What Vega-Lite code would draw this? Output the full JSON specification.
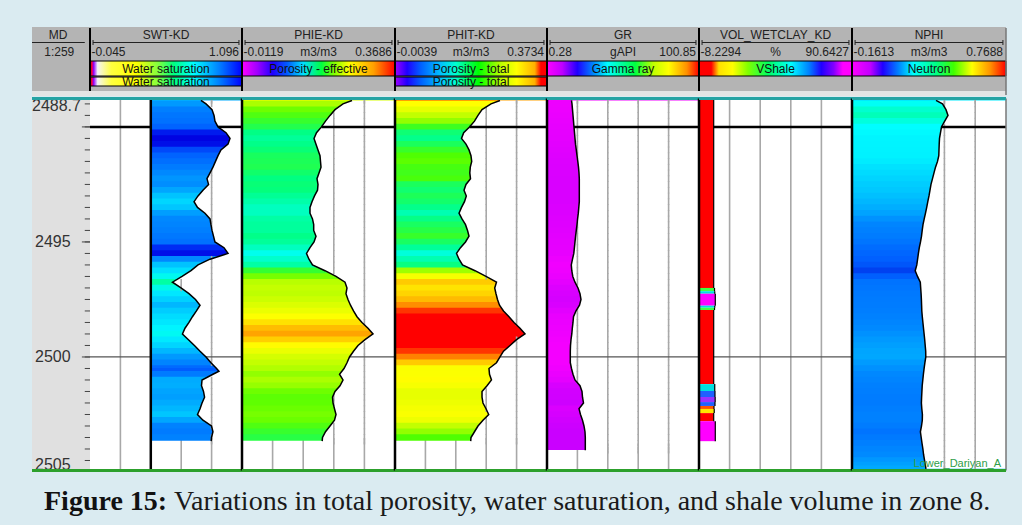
{
"$schema": "https://vega.github.io/schema/vega-lite/v6.json",
"background": "#daebf1",
"padding": {"left": 30, "top": 27, "right": 18, "bottom": 9},
"spacing": 0,
"config": {"view": {"stroke": null}, "axis": {"disable": true}, "legend": {"disable": true}, "font": "Liberation Sans"},
"resolve": {"scale": {"color": "independent"}},
"datasets": {
"log": [
{"d":2488.85,"swt":0.788,"phie":0.2617,"phit":0.2567,"gr":16.49,"nphi":0.346},
{"d":2489,"swt":0.826,"phie":0.2393,"phit":0.2344,"gr":16.82,"nphi":0.3853},
{"d":2489.25,"swt":0.871,"phie":0.2194,"phit":0.2121,"gr":17.15,"nphi":0.4064},
{"d":2489.5,"swt":0.886,"phie":0.207,"phit":0.2021,"gr":17.48,"nphi":0.4185},
{"d":2489.75,"swt":0.893,"phie":0.1958,"phit":0.1934,"gr":17.81,"nphi":0.3986},
{"d":2490,"swt":0.916,"phie":0.1858,"phit":0.181,"gr":18.14,"nphi":0.3792},
{"d":2490.25,"swt":0.976,"phie":0.1734,"phit":0.1666,"gr":18.47,"nphi":0.3732},
{"d":2490.5,"swt":1.006,"phie":0.1672,"phit":0.1612,"gr":18.8,"nphi":0.3672},
{"d":2490.75,"swt":0.991,"phie":0.1721,"phit":0.1723,"gr":19.14,"nphi":0.3654},
{"d":2491,"swt":0.938,"phie":0.1771,"phit":0.1798,"gr":19.66,"nphi":0.3641},
{"d":2491.25,"swt":0.916,"phie":0.1821,"phit":0.1847,"gr":20.13,"nphi":0.3629},
{"d":2491.5,"swt":0.897,"phie":0.1833,"phit":0.1865,"gr":20.66,"nphi":0.3551},
{"d":2491.75,"swt":0.878,"phie":0.1846,"phit":0.183,"gr":21.12,"nphi":0.343},
{"d":2492,"swt":0.856,"phie":0.1796,"phit":0.1818,"gr":21.45,"nphi":0.3339},
{"d":2492.25,"swt":0.833,"phie":0.1746,"phit":0.1835,"gr":21.65,"nphi":0.3249},
{"d":2492.5,"swt":0.845,"phie":0.1771,"phit":0.1723,"gr":21.65,"nphi":0.3158},
{"d":2492.75,"swt":0.803,"phie":0.1759,"phit":0.1674,"gr":21.65,"nphi":0.3098},
{"d":2493,"swt":0.766,"phie":0.1684,"phit":0.1731,"gr":21.65,"nphi":0.3037},
{"d":2493.25,"swt":0.736,"phie":0.1622,"phit":0.1686,"gr":21.65,"nphi":0.2965},
{"d":2493.5,"swt":0.762,"phie":0.1572,"phit":0.1612,"gr":21.32,"nphi":0.2899},
{"d":2493.75,"swt":0.818,"phie":0.1572,"phit":0.155,"gr":20.99,"nphi":0.2826},
{"d":2494,"swt":0.856,"phie":0.1634,"phit":0.1624,"gr":20.52,"nphi":0.2748},
{"d":2494.25,"swt":0.863,"phie":0.1664,"phit":0.1711,"gr":20.13,"nphi":0.2675},
{"d":2494.5,"swt":0.871,"phie":0.1664,"phit":0.1761,"gr":19.66,"nphi":0.2627},
{"d":2494.75,"swt":0.882,"phie":0.1721,"phit":0.1798,"gr":19.2,"nphi":0.2585},
{"d":2495,"swt":0.893,"phie":0.1672,"phit":0.1711,"gr":18.8,"nphi":0.2524},
{"d":2495.25,"swt":0.961,"phie":0.1572,"phit":0.1587,"gr":18.41,"nphi":0.2452},
{"d":2495.5,"swt":0.991,"phie":0.1485,"phit":0.1488,"gr":18.01,"nphi":0.2397},
{"d":2495.75,"swt":0.856,"phie":0.1547,"phit":0.155,"gr":17.15,"nphi":0.2349},
{"d":2496,"swt":0.766,"phie":0.1634,"phit":0.1637,"gr":16.36,"nphi":0.2301},
{"d":2496.25,"swt":0.713,"phie":0.1945,"phit":0.1947,"gr":16.69,"nphi":0.2204},
{"d":2496.5,"swt":0.646,"phie":0.2219,"phit":0.222,"gr":17.35,"nphi":0.2343},
{"d":2496.75,"swt":0.574,"phie":0.2443,"phit":0.248,"gr":18.8,"nphi":0.2512},
{"d":2497,"swt":0.638,"phie":0.2492,"phit":0.2436,"gr":20.79,"nphi":0.2536},
{"d":2497.25,"swt":0.698,"phie":0.2467,"phit":0.2468,"gr":22.11,"nphi":0.256},
{"d":2497.5,"swt":0.747,"phie":0.2517,"phit":0.2505,"gr":22.77,"nphi":0.2578},
{"d":2497.75,"swt":0.781,"phie":0.2579,"phit":0.2555,"gr":21.78,"nphi":0.2591},
{"d":2498,"swt":0.754,"phie":0.2654,"phit":0.2654,"gr":19.47,"nphi":0.2603},
{"d":2498.25,"swt":0.724,"phie":0.2741,"phit":0.2791,"gr":17.81,"nphi":0.2633},
{"d":2498.5,"swt":0.698,"phie":0.2865,"phit":0.2915,"gr":17.48,"nphi":0.2669},
{"d":2498.75,"swt":0.668,"phie":0.3015,"phit":0.3064,"gr":17.02,"nphi":0.2705},
{"d":2499,"swt":0.649,"phie":0.3139,"phit":0.3188,"gr":16.69,"nphi":0.2742},
{"d":2499.25,"swt":0.694,"phie":0.294,"phit":0.2977,"gr":16.16,"nphi":0.2778},
{"d":2499.5,"swt":0.739,"phie":0.2766,"phit":0.2816,"gr":15.83,"nphi":0.2808},
{"d":2499.75,"swt":0.781,"phie":0.2654,"phit":0.2654,"gr":15.7,"nphi":0.2838},
{"d":2500,"swt":0.826,"phie":0.2555,"phit":0.2567,"gr":15.7,"nphi":0.2844},
{"d":2500.25,"swt":0.863,"phie":0.2492,"phit":0.248,"gr":15.7,"nphi":0.279},
{"d":2500.5,"swt":0.905,"phie":0.2418,"phit":0.2294,"gr":16.49,"nphi":0.2742},
{"d":2500.62,"swt":0.923},
{"d":2500.75,"swt":0.878,"phie":0.2306,"phit":0.2307,"gr":17.48,"nphi":0.2699},
{"d":2501,"swt":0.796,"phie":0.2393,"phit":0.2356,"gr":18.8,"nphi":0.2663},
{"d":2501.25,"swt":0.792,"phie":0.2318,"phit":0.2245,"gr":22.11,"nphi":0.2627},
{"d":2501.5,"swt":0.807,"phie":0.2194,"phit":0.2121,"gr":23.44,"nphi":0.2609},
{"d":2501.75,"swt":0.815,"phie":0.2132,"phit":0.2121,"gr":23.77,"nphi":0.2591},
{"d":2502,"swt":0.796,"phie":0.2144,"phit":0.2145,"gr":24.43,"nphi":0.2578},
{"d":2502.25,"swt":0.781,"phie":0.2181,"phit":0.222,"gr":21.45,"nphi":0.2603},
{"d":2502.5,"swt":0.762,"phie":0.2219,"phit":0.2287,"gr":22.44,"nphi":0.2639},
{"d":2502.75,"swt":0.803,"phie":0.2181,"phit":0.2145,"gr":23.77,"nphi":0.2633},
{"d":2503,"swt":0.867,"phie":0.207,"phit":0.2021,"gr":24.76,"nphi":0.2585},
{"d":2503.25,"swt":0.878,"phie":0.1958,"phit":0.1934,"gr":25.42,"nphi":0.2518},
{"d":2503.5,"swt":0.867,"phie":0.1883,"phit":0.1847,"gr":25.62,"nphi":0.2566},
{"d":2503.66,"swt":0.865,"phie":0.1875,"phit":0.184},
{"d":2503.75,"gr":25.62,"nphi":0.2615},
{"d":2503.9,"gr":25.62},
{"d":2504,"nphi":0.2669},
{"d":2504.05,"gr":25.62},
{"d":2504.25,"nphi":0.2711},
{"d":2504.5,"nphi":0.2772},
{"d":2504.7,"nphi":0.2814},
{"d":2504.86,"nphi":0.2856}
],
"vsh": [
{"top":2488.7,"bot":2497.0,"v":1.27},
{"top":2497.0,"bot":2497.14,"v":1.8},
{"top":2497.14,"bot":2497.25,"v":1.95},
{"top":2497.25,"bot":2497.77,"v":2.3},
{"top":2497.77,"bot":2497.86,"v":1.95},
{"top":2497.86,"bot":2497.96,"v":1.8},
{"top":2497.96,"bot":2501.18,"v":1.27},
{"top":2501.18,"bot":2501.48,"v":1.95},
{"top":2501.48,"bot":2501.74,"v":2.1},
{"top":2501.74,"bot":2501.96,"v":2.22},
{"top":2501.96,"bot":2502.13,"v":2.1},
{"top":2502.13,"bot":2502.26,"v":1.45},
{"top":2502.26,"bot":2502.44,"v":1.62},
{"top":2502.44,"bot":2502.79,"v":1.27},
{"top":2502.79,"bot":2503.66,"v":2.3}
],
"ticks": [
{"t":2489},{"t":2489.5},{"t":2490},{"t":2490.5},{"t":2491},{"t":2491.5},{"t":2492},{"t":2492.5},{"t":2493},{"t":2493.5},{"t":2494},{"t":2494.5},{"t":2495},{"t":2495.5},{"t":2496},{"t":2496.5},{"t":2497},{"t":2497.5},{"t":2498},{"t":2498.5},{"t":2499},{"t":2499.5},{"t":2500},{"t":2500.5},{"t":2501},{"t":2501.5},{"t":2502},{"t":2502.5},{"t":2503},{"t":2503.5},{"t":2504},{"t":2504.5},{"t":2504.9}
]
},
"vconcat": [
{"hconcat": [
 {"width":58,"height":69,"data":{"values":[{}]},"view":{"fill":"#b4b4b4","stroke":null},"layer":[
  {"mark":{"type":"rect","color":"#e4e4e4"},"encoding":{"x":{"datum":0,"type":"quantitative","scale":{"domain":[0,1],"nice":false,"zero":false}},"x2":{"datum":1},"y":{"datum":64,"type":"quantitative","scale":{"domain":[0,69],"reverse":true,"nice":false,"zero":false}},"y2":{"datum":69}}},
  {"mark":{"type":"text","text":"MD","fontSize":12,"color":"#222222"},"encoding":{"x":{"datum":0.45,"type":"quantitative"},"y":{"datum":8,"type":"quantitative"}}},
  {"mark":{"type":"rule","color":"#222222","strokeWidth":1},"encoding":{"x":{"datum":0,"type":"quantitative"},"x2":{"datum":0.91},"y":{"datum":15.5,"type":"quantitative"}}},
  {"mark":{"type":"text","text":"1:259","fontSize":12,"color":"#222222"},"encoding":{"x":{"datum":0.47,"type":"quantitative"},"y":{"datum":25,"type":"quantitative"}}}
 ]},
 {"width":152,"height":69,"data":{"values":[{}]},"view":{"fill":"#b4b4b4","stroke":null},"layer":[
  {"mark":{"type":"rect","color":"#e4e4e4"},"encoding":{"x":{"datum":0,"type":"quantitative","scale":{"domain":[0,1],"nice":false,"zero":false}},"x2":{"datum":1},"y":{"datum":64,"type":"quantitative","scale":{"domain":[0,69],"reverse":true,"nice":false,"zero":false}},"y2":{"datum":69}}},
  {"mark":{"type":"text","text":"SWT-KD","fontSize":12,"color":"#222222"},"encoding":{"x":{"datum":0.5,"type":"quantitative"},"y":{"datum":8,"type":"quantitative"}}},
  {"mark":{"type":"rule","color":"#222222","strokeWidth":1},"encoding":{"x":{"datum":0.02,"type":"quantitative"},"x2":{"datum":0.98},"y":{"datum":15.5,"type":"quantitative"}}},
  {"mark":{"type":"rule","color":"#222222","strokeWidth":1},"encoding":{"x":{"datum":0.02,"type":"quantitative"},"y":{"datum":13,"type":"quantitative"},"y2":{"datum":18}}},
  {"mark":{"type":"rule","color":"#222222","strokeWidth":1},"encoding":{"x":{"datum":0.98,"type":"quantitative"},"y":{"datum":13,"type":"quantitative"},"y2":{"datum":18}}},
  {"mark":{"type":"text","text":"-0.045","align":"left","dx":1.5,"fontSize":12,"color":"#222222"},"encoding":{"x":{"datum":0,"type":"quantitative"},"y":{"datum":25,"type":"quantitative"}}},
  {"mark":{"type":"text","text":"1.096","align":"right","dx":-3,"fontSize":12,"color":"#222222"},"encoding":{"x":{"datum":1,"type":"quantitative"},"y":{"datum":25,"type":"quantitative"}}},
  {"mark":{"type":"rect","stroke":"#000000","strokeWidth":1,"fill":{"gradient":"linear","x1":0,"y1":0,"x2":1,"y2":0,"stops":[{"offset":0,"color":"#900020"},{"offset":0.012,"color":"#ff0030"},{"offset":0.024,"color":"#9000ff"},{"offset":0.05,"color":"#f4f4f4"},{"offset":0.14,"color":"#ffff40"},{"offset":0.3,"color":"#ffff00"},{"offset":0.45,"color":"#80ff40"},{"offset":0.55,"color":"#00ff80"},{"offset":0.68,"color":"#00ffff"},{"offset":0.85,"color":"#0080ff"},{"offset":1,"color":"#0000ff"}]}},"encoding":{"x":{"datum":0,"type":"quantitative"},"x2":{"datum":1},"y":{"datum":34,"type":"quantitative"},"y2":{"datum":49}}},
  {"mark":{"type":"text","text":"Water saturation","fontSize":12,"color":"#111111"},"encoding":{"x":{"datum":0.5,"type":"quantitative"},"y":{"datum":41.5,"type":"quantitative"}}},
  {"mark":{"type":"rect","stroke":"#000000","strokeWidth":1,"fill":{"gradient":"linear","x1":0,"y1":0,"x2":1,"y2":0,"stops":[{"offset":0,"color":"#900020"},{"offset":0.012,"color":"#ff0030"},{"offset":0.024,"color":"#9000ff"},{"offset":0.05,"color":"#f4f4f4"},{"offset":0.14,"color":"#ffff40"},{"offset":0.3,"color":"#ffff00"},{"offset":0.45,"color":"#80ff40"},{"offset":0.55,"color":"#00ff80"},{"offset":0.68,"color":"#00ffff"},{"offset":0.85,"color":"#0080ff"},{"offset":1,"color":"#0000ff"}]}},"encoding":{"x":{"datum":0,"type":"quantitative"},"x2":{"datum":1},"y":{"datum":50,"type":"quantitative"},"y2":{"datum":59}}},
  {"mark":{"type":"text","text":"Water saturation","fontSize":12,"color":"#111111"},"encoding":{"x":{"datum":0.5,"type":"quantitative"},"y":{"datum":55,"type":"quantitative"}}},
  {"mark":{"type":"rule","color":"#000000","strokeWidth":2},"encoding":{"x":{"datum":0,"type":"quantitative"},"y":{"datum":1,"type":"quantitative"},"y2":{"datum":64}}}
 ]},
 {"width":153,"height":69,"data":{"values":[{}]},"view":{"fill":"#b4b4b4","stroke":null},"layer":[
  {"mark":{"type":"rect","color":"#e4e4e4"},"encoding":{"x":{"datum":0,"type":"quantitative","scale":{"domain":[0,1],"nice":false,"zero":false}},"x2":{"datum":1},"y":{"datum":64,"type":"quantitative","scale":{"domain":[0,69],"reverse":true,"nice":false,"zero":false}},"y2":{"datum":69}}},
  {"mark":{"type":"text","text":"PHIE-KD","fontSize":12,"color":"#222222"},"encoding":{"x":{"datum":0.5,"type":"quantitative"},"y":{"datum":8,"type":"quantitative"}}},
  {"mark":{"type":"rule","color":"#222222","strokeWidth":1},"encoding":{"x":{"datum":0.02,"type":"quantitative"},"x2":{"datum":0.98},"y":{"datum":15.5,"type":"quantitative"}}},
  {"mark":{"type":"rule","color":"#222222","strokeWidth":1},"encoding":{"x":{"datum":0.02,"type":"quantitative"},"y":{"datum":13,"type":"quantitative"},"y2":{"datum":18}}},
  {"mark":{"type":"rule","color":"#222222","strokeWidth":1},"encoding":{"x":{"datum":0.98,"type":"quantitative"},"y":{"datum":13,"type":"quantitative"},"y2":{"datum":18}}},
  {"mark":{"type":"text","text":"-0.0119","align":"left","dx":1.5,"fontSize":12,"color":"#222222"},"encoding":{"x":{"datum":0,"type":"quantitative"},"y":{"datum":25,"type":"quantitative"}}},
  {"mark":{"type":"text","text":"m3/m3","fontSize":12,"color":"#222222"},"encoding":{"x":{"datum":0.5,"type":"quantitative"},"y":{"datum":25,"type":"quantitative"}}},
  {"mark":{"type":"text","text":"0.3686","align":"right","dx":-3,"fontSize":12,"color":"#222222"},"encoding":{"x":{"datum":1,"type":"quantitative"},"y":{"datum":25,"type":"quantitative"}}},
  {"mark":{"type":"rect","stroke":"#000000","strokeWidth":1,"fill":{"gradient":"linear","x1":0,"y1":0,"x2":1,"y2":0,"stops":[{"offset":0,"color":"#ff00ff"},{"offset":0.1,"color":"#a000ff"},{"offset":0.2,"color":"#2000ff"},{"offset":0.3,"color":"#0060ff"},{"offset":0.4,"color":"#00e0ff"},{"offset":0.52,"color":"#00ff40"},{"offset":0.6,"color":"#80ff00"},{"offset":0.7,"color":"#ffff00"},{"offset":0.86,"color":"#ffa000"},{"offset":1,"color":"#ff0000"}]}},"encoding":{"x":{"datum":0,"type":"quantitative"},"x2":{"datum":1},"y":{"datum":34,"type":"quantitative"},"y2":{"datum":49}}},
  {"mark":{"type":"text","text":"Porosity - effective","fontSize":12,"color":"#111111"},"encoding":{"x":{"datum":0.5,"type":"quantitative"},"y":{"datum":41.5,"type":"quantitative"}}},
  {"mark":{"type":"rule","color":"#000000","strokeWidth":2},"encoding":{"x":{"datum":0,"type":"quantitative"},"y":{"datum":1,"type":"quantitative"},"y2":{"datum":64}}}
 ]},
 {"width":152,"height":69,"data":{"values":[{}]},"view":{"fill":"#b4b4b4","stroke":null},"layer":[
  {"mark":{"type":"rect","color":"#e4e4e4"},"encoding":{"x":{"datum":0,"type":"quantitative","scale":{"domain":[0,1],"nice":false,"zero":false}},"x2":{"datum":1},"y":{"datum":64,"type":"quantitative","scale":{"domain":[0,69],"reverse":true,"nice":false,"zero":false}},"y2":{"datum":69}}},
  {"mark":{"type":"text","text":"PHIT-KD","fontSize":12,"color":"#222222"},"encoding":{"x":{"datum":0.5,"type":"quantitative"},"y":{"datum":8,"type":"quantitative"}}},
  {"mark":{"type":"rule","color":"#222222","strokeWidth":1},"encoding":{"x":{"datum":0.02,"type":"quantitative"},"x2":{"datum":0.98},"y":{"datum":15.5,"type":"quantitative"}}},
  {"mark":{"type":"rule","color":"#222222","strokeWidth":1},"encoding":{"x":{"datum":0.02,"type":"quantitative"},"y":{"datum":13,"type":"quantitative"},"y2":{"datum":18}}},
  {"mark":{"type":"rule","color":"#222222","strokeWidth":1},"encoding":{"x":{"datum":0.98,"type":"quantitative"},"y":{"datum":13,"type":"quantitative"},"y2":{"datum":18}}},
  {"mark":{"type":"text","text":"-0.0039","align":"left","dx":1.5,"fontSize":12,"color":"#222222"},"encoding":{"x":{"datum":0,"type":"quantitative"},"y":{"datum":25,"type":"quantitative"}}},
  {"mark":{"type":"text","text":"m3/m3","fontSize":12,"color":"#222222"},"encoding":{"x":{"datum":0.5,"type":"quantitative"},"y":{"datum":25,"type":"quantitative"}}},
  {"mark":{"type":"text","text":"0.3734","align":"right","dx":-3,"fontSize":12,"color":"#222222"},"encoding":{"x":{"datum":1,"type":"quantitative"},"y":{"datum":25,"type":"quantitative"}}},
  {"mark":{"type":"rect","stroke":"#000000","strokeWidth":1,"fill":{"gradient":"linear","x1":0,"y1":0,"x2":1,"y2":0,"stops":[{"offset":0,"color":"#a000ff"},{"offset":0.08,"color":"#2000ff"},{"offset":0.17,"color":"#0060ff"},{"offset":0.3,"color":"#00c0ff"},{"offset":0.4,"color":"#00ffd0"},{"offset":0.55,"color":"#00ff00"},{"offset":0.7,"color":"#c0ff00"},{"offset":0.8,"color":"#ffff00"},{"offset":0.92,"color":"#ffb000"},{"offset":0.96,"color":"#ff0000"},{"offset":1,"color":"#ff0000"}]}},"encoding":{"x":{"datum":0,"type":"quantitative"},"x2":{"datum":1},"y":{"datum":34,"type":"quantitative"},"y2":{"datum":49}}},
  {"mark":{"type":"text","text":"Porosity - total","fontSize":12,"color":"#111111"},"encoding":{"x":{"datum":0.5,"type":"quantitative"},"y":{"datum":41.5,"type":"quantitative"}}},
  {"mark":{"type":"rect","stroke":"#000000","strokeWidth":1,"fill":{"gradient":"linear","x1":0,"y1":0,"x2":1,"y2":0,"stops":[{"offset":0,"color":"#a000ff"},{"offset":0.08,"color":"#2000ff"},{"offset":0.17,"color":"#0060ff"},{"offset":0.3,"color":"#00c0ff"},{"offset":0.4,"color":"#00ffd0"},{"offset":0.55,"color":"#00ff00"},{"offset":0.7,"color":"#c0ff00"},{"offset":0.8,"color":"#ffff00"},{"offset":0.92,"color":"#ffb000"},{"offset":0.96,"color":"#ff0000"},{"offset":1,"color":"#ff0000"}]}},"encoding":{"x":{"datum":0,"type":"quantitative"},"x2":{"datum":1},"y":{"datum":50,"type":"quantitative"},"y2":{"datum":59}}},
  {"mark":{"type":"text","text":"Porosity - total","fontSize":12,"color":"#111111"},"encoding":{"x":{"datum":0.5,"type":"quantitative"},"y":{"datum":55,"type":"quantitative"}}},
  {"mark":{"type":"rule","color":"#000000","strokeWidth":2},"encoding":{"x":{"datum":0,"type":"quantitative"},"y":{"datum":1,"type":"quantitative"},"y2":{"datum":64}}}
 ]},
 {"width":152,"height":69,"data":{"values":[{}]},"view":{"fill":"#b4b4b4","stroke":null},"layer":[
  {"mark":{"type":"rect","color":"#e4e4e4"},"encoding":{"x":{"datum":0,"type":"quantitative","scale":{"domain":[0,1],"nice":false,"zero":false}},"x2":{"datum":1},"y":{"datum":64,"type":"quantitative","scale":{"domain":[0,69],"reverse":true,"nice":false,"zero":false}},"y2":{"datum":69}}},
  {"mark":{"type":"text","text":"GR","fontSize":12,"color":"#222222"},"encoding":{"x":{"datum":0.5,"type":"quantitative"},"y":{"datum":8,"type":"quantitative"}}},
  {"mark":{"type":"rule","color":"#222222","strokeWidth":1},"encoding":{"x":{"datum":0.02,"type":"quantitative"},"x2":{"datum":0.98},"y":{"datum":15.5,"type":"quantitative"}}},
  {"mark":{"type":"rule","color":"#222222","strokeWidth":1},"encoding":{"x":{"datum":0.02,"type":"quantitative"},"y":{"datum":13,"type":"quantitative"},"y2":{"datum":18}}},
  {"mark":{"type":"rule","color":"#222222","strokeWidth":1},"encoding":{"x":{"datum":0.98,"type":"quantitative"},"y":{"datum":13,"type":"quantitative"},"y2":{"datum":18}}},
  {"mark":{"type":"text","text":"0.28","align":"left","dx":1.5,"fontSize":12,"color":"#222222"},"encoding":{"x":{"datum":0,"type":"quantitative"},"y":{"datum":25,"type":"quantitative"}}},
  {"mark":{"type":"text","text":"gAPI","fontSize":12,"color":"#222222"},"encoding":{"x":{"datum":0.5,"type":"quantitative"},"y":{"datum":25,"type":"quantitative"}}},
  {"mark":{"type":"text","text":"100.85","align":"right","dx":-3,"fontSize":12,"color":"#222222"},"encoding":{"x":{"datum":1,"type":"quantitative"},"y":{"datum":25,"type":"quantitative"}}},
  {"mark":{"type":"rect","stroke":"#000000","strokeWidth":1,"fill":{"gradient":"linear","x1":0,"y1":0,"x2":1,"y2":0,"stops":[{"offset":0,"color":"#ff00ff"},{"offset":0.1,"color":"#c000ff"},{"offset":0.2,"color":"#2000ff"},{"offset":0.3,"color":"#0080ff"},{"offset":0.4,"color":"#00ffff"},{"offset":0.58,"color":"#00ff40"},{"offset":0.7,"color":"#c0ff00"},{"offset":0.8,"color":"#ffff00"},{"offset":0.92,"color":"#ff9000"},{"offset":1,"color":"#ff0000"}]}},"encoding":{"x":{"datum":0,"type":"quantitative"},"x2":{"datum":1},"y":{"datum":34,"type":"quantitative"},"y2":{"datum":49}}},
  {"mark":{"type":"text","text":"Gamma ray","fontSize":12,"color":"#111111"},"encoding":{"x":{"datum":0.5,"type":"quantitative"},"y":{"datum":41.5,"type":"quantitative"}}},
  {"mark":{"type":"rule","color":"#000000","strokeWidth":2},"encoding":{"x":{"datum":0,"type":"quantitative"},"y":{"datum":1,"type":"quantitative"},"y2":{"datum":64}}}
 ]},
 {"width":153,"height":69,"data":{"values":[{}]},"view":{"fill":"#b4b4b4","stroke":null},"layer":[
  {"mark":{"type":"rect","color":"#e4e4e4"},"encoding":{"x":{"datum":0,"type":"quantitative","scale":{"domain":[0,1],"nice":false,"zero":false}},"x2":{"datum":1},"y":{"datum":64,"type":"quantitative","scale":{"domain":[0,69],"reverse":true,"nice":false,"zero":false}},"y2":{"datum":69}}},
  {"mark":{"type":"text","text":"VOL_WETCLAY_KD","fontSize":12,"color":"#222222"},"encoding":{"x":{"datum":0.5,"type":"quantitative"},"y":{"datum":8,"type":"quantitative"}}},
  {"mark":{"type":"rule","color":"#222222","strokeWidth":1},"encoding":{"x":{"datum":0.02,"type":"quantitative"},"x2":{"datum":0.98},"y":{"datum":15.5,"type":"quantitative"}}},
  {"mark":{"type":"rule","color":"#222222","strokeWidth":1},"encoding":{"x":{"datum":0.02,"type":"quantitative"},"y":{"datum":13,"type":"quantitative"},"y2":{"datum":18}}},
  {"mark":{"type":"rule","color":"#222222","strokeWidth":1},"encoding":{"x":{"datum":0.98,"type":"quantitative"},"y":{"datum":13,"type":"quantitative"},"y2":{"datum":18}}},
  {"mark":{"type":"text","text":"-8.2294","align":"left","dx":1.5,"fontSize":12,"color":"#222222"},"encoding":{"x":{"datum":0,"type":"quantitative"},"y":{"datum":25,"type":"quantitative"}}},
  {"mark":{"type":"text","text":"%","fontSize":12,"color":"#222222"},"encoding":{"x":{"datum":0.5,"type":"quantitative"},"y":{"datum":25,"type":"quantitative"}}},
  {"mark":{"type":"text","text":"90.6427","align":"right","dx":-3,"fontSize":12,"color":"#222222"},"encoding":{"x":{"datum":1,"type":"quantitative"},"y":{"datum":25,"type":"quantitative"}}},
  {"mark":{"type":"rect","stroke":"#000000","strokeWidth":1,"fill":{"gradient":"linear","x1":0,"y1":0,"x2":1,"y2":0,"stops":[{"offset":0,"color":"#ff0000"},{"offset":0.08,"color":"#ff0000"},{"offset":0.13,"color":"#ffe000"},{"offset":0.22,"color":"#ffff00"},{"offset":0.32,"color":"#80ff00"},{"offset":0.45,"color":"#00ff60"},{"offset":0.6,"color":"#00ffff"},{"offset":0.72,"color":"#0080ff"},{"offset":0.8,"color":"#2000ff"},{"offset":0.88,"color":"#8000ff"},{"offset":0.94,"color":"#ff00ff"},{"offset":1,"color":"#ff00ff"}]}},"encoding":{"x":{"datum":0,"type":"quantitative"},"x2":{"datum":1},"y":{"datum":34,"type":"quantitative"},"y2":{"datum":49}}},
  {"mark":{"type":"text","text":"VShale","fontSize":12,"color":"#111111"},"encoding":{"x":{"datum":0.5,"type":"quantitative"},"y":{"datum":41.5,"type":"quantitative"}}},
  {"mark":{"type":"rule","color":"#000000","strokeWidth":2},"encoding":{"x":{"datum":0,"type":"quantitative"},"y":{"datum":1,"type":"quantitative"},"y2":{"datum":64}}}
 ]},
 {"width":154,"height":69,"data":{"values":[{}]},"view":{"fill":"#b4b4b4","stroke":null},"layer":[
  {"mark":{"type":"rect","color":"#e4e4e4"},"encoding":{"x":{"datum":0,"type":"quantitative","scale":{"domain":[0,1],"nice":false,"zero":false}},"x2":{"datum":1},"y":{"datum":64,"type":"quantitative","scale":{"domain":[0,69],"reverse":true,"nice":false,"zero":false}},"y2":{"datum":69}}},
  {"mark":{"type":"text","text":"NPHI","fontSize":12,"color":"#222222"},"encoding":{"x":{"datum":0.5,"type":"quantitative"},"y":{"datum":8,"type":"quantitative"}}},
  {"mark":{"type":"rule","color":"#222222","strokeWidth":1},"encoding":{"x":{"datum":0.02,"type":"quantitative"},"x2":{"datum":0.98},"y":{"datum":15.5,"type":"quantitative"}}},
  {"mark":{"type":"rule","color":"#222222","strokeWidth":1},"encoding":{"x":{"datum":0.02,"type":"quantitative"},"y":{"datum":13,"type":"quantitative"},"y2":{"datum":18}}},
  {"mark":{"type":"rule","color":"#222222","strokeWidth":1},"encoding":{"x":{"datum":0.98,"type":"quantitative"},"y":{"datum":13,"type":"quantitative"},"y2":{"datum":18}}},
  {"mark":{"type":"text","text":"-0.1613","align":"left","dx":1.5,"fontSize":12,"color":"#222222"},"encoding":{"x":{"datum":0,"type":"quantitative"},"y":{"datum":25,"type":"quantitative"}}},
  {"mark":{"type":"text","text":"m3/m3","fontSize":12,"color":"#222222"},"encoding":{"x":{"datum":0.5,"type":"quantitative"},"y":{"datum":25,"type":"quantitative"}}},
  {"mark":{"type":"text","text":"0.7688","align":"right","dx":-3,"fontSize":12,"color":"#222222"},"encoding":{"x":{"datum":1,"type":"quantitative"},"y":{"datum":25,"type":"quantitative"}}},
  {"mark":{"type":"rect","stroke":"#000000","strokeWidth":1,"fill":{"gradient":"linear","x1":0,"y1":0,"x2":1,"y2":0,"stops":[{"offset":0,"color":"#ff00ff"},{"offset":0.12,"color":"#c000ff"},{"offset":0.2,"color":"#2000ff"},{"offset":0.3,"color":"#0080ff"},{"offset":0.4,"color":"#00ffff"},{"offset":0.55,"color":"#00ff80"},{"offset":0.66,"color":"#40ff00"},{"offset":0.78,"color":"#ffff00"},{"offset":0.9,"color":"#ff9000"},{"offset":1,"color":"#ff0000"}]}},"encoding":{"x":{"datum":0,"type":"quantitative"},"x2":{"datum":1},"y":{"datum":34,"type":"quantitative"},"y2":{"datum":49}}},
  {"mark":{"type":"text","text":"Neutron","fontSize":12,"color":"#111111"},"encoding":{"x":{"datum":0.5,"type":"quantitative"},"y":{"datum":41.5,"type":"quantitative"}}},
  {"mark":{"type":"rule","color":"#000000","strokeWidth":2},"encoding":{"x":{"datum":0,"type":"quantitative"},"y":{"datum":1,"type":"quantitative"},"y2":{"datum":64}}},
  {"mark":{"type":"rule","color":"#777777","strokeWidth":1.5},"encoding":{"x":{"datum":1,"type":"quantitative"},"y":{"datum":1,"type":"quantitative"},"y2":{"datum":68}}}
 ]}
], "spacing": 0, "bounds": "flush"},
{"hconcat": [
 {"width":58,"height":375,"view":{"fill":"#e0e0e0","stroke":null},"layer":[
  {"data":{"name":"ticks"},"mark":{"type":"rule","color":"#444444","strokeWidth":1},"encoding":{"x":{"datum":0.91,"type":"quantitative","scale":{"domain":[0,1],"nice":false,"zero":false}},"x2":{"datum":1},"y":{"field":"t","type":"quantitative","scale":{"domain":[2488.7,2505],"reverse":true,"nice":false,"zero":false,"padding":0}}}},
  {"data":{"name":"ticks"},"transform":[{"filter":"datum.t % 5 == 0"}],"mark":{"type":"rule","color":"#444444","strokeWidth":1},"encoding":{"x":{"datum":0.86,"type":"quantitative"},"x2":{"datum":1},"y":{"field":"t","type":"quantitative"}}},
  {"data":{"values":[{}]},"mark":{"type":"text","text":"2488.7","align":"left","baseline":"top","dy":1,"fontSize":16,"color":"#333333"},"encoding":{"x":{"datum":0,"type":"quantitative"},"y":{"datum":2488.7,"type":"quantitative"}}},
  {"data":{"values":[{"lab":"2495","t":2495},{"lab":"2500","t":2500}]},"mark":{"type":"text","align":"left","baseline":"middle","dx":3,"fontSize":16,"color":"#333333"},"encoding":{"x":{"datum":0,"type":"quantitative"},"y":{"field":"t","type":"quantitative"},"text":{"field":"lab","type":"nominal"}}},
  {"data":{"values":[{}]},"mark":{"type":"text","text":"2505","align":"left","baseline":"alphabetic","dx":3,"dy":-2,"fontSize":16,"color":"#333333"},"encoding":{"x":{"datum":0,"type":"quantitative"},"y":{"datum":2505,"type":"quantitative"}}},
  {"data":{"values":[{}]},"mark":{"type":"rule","color":"#26a3a3","strokeWidth":3},"encoding":{"x":{"datum":0,"type":"quantitative"},"x2":{"datum":1},"y":{"datum":2488.765,"type":"quantitative"}}},
  {"data":{"values":[{}]},"mark":{"type":"rule","color":"#2ca02c","strokeWidth":3},"encoding":{"x":{"datum":0,"type":"quantitative"},"x2":{"datum":1},"y":{"datum":2504.94,"type":"quantitative"}}}
 ]},
 {"width":152,"height":375,"data":{"name":"log"},"view":{"fill":"#ffffff","stroke":null},
  "layer":[
  {"data":{"values":[{}]},"mark":{"type":"rule","color":"#a8a8a8","strokeWidth":1.6},"encoding":{"x":{"datum":0.1832,"type":"quantitative","scale":{"domain":[-0.045,1.096],"nice":false,"zero":false}},"y":{"datum":2488.76,"type":"quantitative","scale":{"domain":[2488.7,2505],"reverse":true,"nice":false,"zero":false,"padding":0}},"y2":{"datum":2504.94}}},
  {"data":{"values":[{}]},"mark":{"type":"rule","color":"#a8a8a8","strokeWidth":1.6},"encoding":{"x":{"datum":0.6396,"type":"quantitative"},"y":{"datum":2488.76,"type":"quantitative"},"y2":{"datum":2504.94}}},
  {"data":{"values":[{}]},"mark":{"type":"rule","color":"#a8a8a8","strokeWidth":1.6},"encoding":{"x":{"datum":0.8678,"type":"quantitative"},"y":{"datum":2488.76,"type":"quantitative"},"y2":{"datum":2504.94}}},
  {"data":{"values":[{}]},"mark":{"type":"rule","color":"#000000","strokeWidth":2.5},"encoding":{"x":{"datum":-0.045,"type":"quantitative"},"x2":{"datum":1.096},"y":{"datum":2490,"type":"quantitative"}}},
  {"data":{"values":[{}]},"mark":{"type":"rule","color":"#555555","strokeWidth":1.2},"encoding":{"x":{"datum":-0.045,"type":"quantitative"},"x2":{"datum":1.096},"y":{"datum":2500,"type":"quantitative"}}},
  {"transform":[{"filter":"isValid(datum.swt) && datum.d < 2503.6"}],"mark":{"type":"bar","orient":"horizontal","size":6.5,"clip":true},"encoding":{"x":{"datum":0.4114,"type":"quantitative"},"x2":{"datum":1.096},"y":{"field":"d","type":"quantitative"},"color":{"field":"swt","type":"quantitative","legend":null,"scale":{"interpolate":"rgb","domain":[-0.045,0.0,0.05,0.15,0.4,0.57,0.66,0.75,0.8,0.87,0.92,0.97,1.01,1.096],"range":["#c00030","#9000ff","#f0f0f0","#ffff00","#00ff00","#00ffa0","#00f8ff","#00d0ff","#00a8ff","#0080ff","#0060ff","#0020f0","#0000e0","#0000c0"]}}}},
  {"transform":[{"filter":"isValid(datum.swt)"}],"mark":{"type":"area","orient":"horizontal","color":"#ffffff","clip":true},"encoding":{"x":{"field":"swt","type":"quantitative"},"x2":{"datum":1.096},"y":{"field":"d","type":"quantitative"}}},
  {"transform":[{"filter":"datum.swt < 0.6396"}],"mark":{"type":"tick","orient":"vertical","color":"#a8a8a8","thickness":1.6,"size":6.5,"opacity":1,"clip":true},"encoding":{"x":{"datum":0.6396,"type":"quantitative"},"y":{"field":"d","type":"quantitative"}}},
  {"transform":[{"filter":"datum.swt < 0.8678"}],"mark":{"type":"tick","orient":"vertical","color":"#a8a8a8","thickness":1.6,"size":6.5,"opacity":1,"clip":true},"encoding":{"x":{"datum":0.8678,"type":"quantitative"},"y":{"field":"d","type":"quantitative"}}},
  {"transform":[{"filter":"isValid(datum.swt) && (datum.d == 2490 || datum.d == 2500)"}],"mark":{"type":"rule"},"encoding":{"x":{"field":"swt","type":"quantitative"},"x2":{"datum":1.096},"y":{"field":"d","type":"quantitative"},"color":{"condition":{"test":"datum.d == 2490","value":"#000000"},"value":"#555555"},"strokeWidth":{"condition":{"test":"datum.d == 2490","value":2.5},"value":1.2}}},
  {"transform":[{"filter":"isValid(datum.swt)"}],"mark":{"type":"line","orient":"horizontal","color":"#000000","strokeWidth":1.5},"encoding":{"x":{"field":"swt","type":"quantitative"},"y":{"field":"d","type":"quantitative"}}},
  {"data":{"values":[{}]},"mark":{"type":"rule","color":"#000000","strokeWidth":2.5},"encoding":{"x":{"datum":0.4114,"type":"quantitative"},"y":{"datum":2488.76,"type":"quantitative"},"y2":{"datum":2504.94}}},
  {"data":{"values":[{}]},"mark":{"type":"rule","color":"#26a3a3","strokeWidth":3},"encoding":{"x":{"datum":-0.045,"type":"quantitative"},"x2":{"datum":1.096},"y":{"datum":2488.765,"type":"quantitative"}}},
  {"data":{"values":[{}]},"mark":{"type":"rule","color":"#2ca02c","strokeWidth":3},"encoding":{"x":{"datum":-0.045,"type":"quantitative"},"x2":{"datum":1.096},"y":{"datum":2504.94,"type":"quantitative"}}}
 ]},
 {"width":153,"height":375,"data":{"name":"log"},"view":{"fill":"#ffffff","stroke":null},
  "layer":[
  {"data":{"values":[{}]},"mark":{"type":"rule","color":"#a8a8a8","strokeWidth":1.6},"encoding":{"x":{"datum":0.0642,"type":"quantitative","scale":{"domain":[-0.0119,0.3686],"nice":false,"zero":false}},"y":{"datum":2488.76,"type":"quantitative","scale":{"domain":[2488.7,2505],"reverse":true,"nice":false,"zero":false,"padding":0}},"y2":{"datum":2504.94}}},
  {"data":{"values":[{}]},"mark":{"type":"rule","color":"#a8a8a8","strokeWidth":1.6},"encoding":{"x":{"datum":0.1403,"type":"quantitative"},"y":{"datum":2488.76,"type":"quantitative"},"y2":{"datum":2504.94}}},
  {"data":{"values":[{}]},"mark":{"type":"rule","color":"#a8a8a8","strokeWidth":1.6},"encoding":{"x":{"datum":0.2164,"type":"quantitative"},"y":{"datum":2488.76,"type":"quantitative"},"y2":{"datum":2504.94}}},
  {"data":{"values":[{}]},"mark":{"type":"rule","color":"#a8a8a8","strokeWidth":1.6},"encoding":{"x":{"datum":0.2925,"type":"quantitative"},"y":{"datum":2488.76,"type":"quantitative"},"y2":{"datum":2504.94}}},
  {"data":{"values":[{}]},"mark":{"type":"rule","color":"#000000","strokeWidth":2.5},"encoding":{"x":{"datum":-0.0119,"type":"quantitative"},"x2":{"datum":0.3686},"y":{"datum":2490,"type":"quantitative"}}},
  {"data":{"values":[{}]},"mark":{"type":"rule","color":"#555555","strokeWidth":1.2},"encoding":{"x":{"datum":-0.0119,"type":"quantitative"},"x2":{"datum":0.3686},"y":{"datum":2500,"type":"quantitative"}}},
  {"transform":[{"filter":"isValid(datum.phie) && datum.d < 2503.6"}],"mark":{"type":"bar","orient":"horizontal","size":6.5,"clip":true},"encoding":{"x":{"datum":-0.0119,"type":"quantitative"},"x2":{"datum":0.3686},"y":{"field":"d","type":"quantitative"},"color":{"field":"phie","type":"quantitative","legend":null,"scale":{"interpolate":"rgb","domain":[-0.0119,0.05,0.1,0.145,0.16,0.175,0.185,0.2,0.215,0.235,0.26,0.275,0.3,0.316,0.3686],"range":["#ff00ff","#4000ff","#0080ff","#00ffff","#00ffb0","#00ff80","#20ff50","#40ff20","#60ff00","#a0ff00","#e0ff00","#ffff00","#ffc000","#ffa000","#ff0000"]}}}},
  {"transform":[{"filter":"isValid(datum.phie)"}],"mark":{"type":"area","orient":"horizontal","color":"#ffffff","clip":true},"encoding":{"x":{"field":"phie","type":"quantitative"},"x2":{"datum":0.3686},"y":{"field":"d","type":"quantitative"}}},
  {"transform":[{"filter":"datum.phie < 0.2164"}],"mark":{"type":"tick","orient":"vertical","color":"#a8a8a8","thickness":1.6,"size":6.5,"opacity":1,"clip":true},"encoding":{"x":{"datum":0.2164,"type":"quantitative"},"y":{"field":"d","type":"quantitative"}}},
  {"transform":[{"filter":"datum.phie < 0.2925"}],"mark":{"type":"tick","orient":"vertical","color":"#a8a8a8","thickness":1.6,"size":6.5,"opacity":1,"clip":true},"encoding":{"x":{"datum":0.2925,"type":"quantitative"},"y":{"field":"d","type":"quantitative"}}},
  {"transform":[{"filter":"isValid(datum.phie) && (datum.d == 2490 || datum.d == 2500)"}],"mark":{"type":"rule"},"encoding":{"x":{"field":"phie","type":"quantitative"},"x2":{"datum":0.3686},"y":{"field":"d","type":"quantitative"},"color":{"condition":{"test":"datum.d == 2490","value":"#000000"},"value":"#555555"},"strokeWidth":{"condition":{"test":"datum.d == 2490","value":2.5},"value":1.2}}},
  {"transform":[{"filter":"isValid(datum.phie)"}],"mark":{"type":"line","orient":"horizontal","color":"#000000","strokeWidth":1.5},"encoding":{"x":{"field":"phie","type":"quantitative"},"y":{"field":"d","type":"quantitative"}}},
  {"data":{"values":[{}]},"mark":{"type":"rule","color":"#000000","strokeWidth":2.5},"encoding":{"x":{"datum":-0.0119,"type":"quantitative"},"y":{"datum":2488.76,"type":"quantitative"},"y2":{"datum":2504.94}}},
  {"data":{"values":[{}]},"mark":{"type":"rule","color":"#26a3a3","strokeWidth":3},"encoding":{"x":{"datum":-0.0119,"type":"quantitative"},"x2":{"datum":0.3686},"y":{"datum":2488.765,"type":"quantitative"}}},
  {"data":{"values":[{}]},"mark":{"type":"rule","color":"#2ca02c","strokeWidth":3},"encoding":{"x":{"datum":-0.0119,"type":"quantitative"},"x2":{"datum":0.3686},"y":{"datum":2504.94,"type":"quantitative"}}}
 ]},
 {"width":152,"height":375,"data":{"name":"log"},"view":{"fill":"#ffffff","stroke":null},
  "layer":[
  {"data":{"values":[{}]},"mark":{"type":"rule","color":"#a8a8a8","strokeWidth":1.6},"encoding":{"x":{"datum":0.0716,"type":"quantitative","scale":{"domain":[-0.0039,0.3734],"nice":false,"zero":false}},"y":{"datum":2488.76,"type":"quantitative","scale":{"domain":[2488.7,2505],"reverse":true,"nice":false,"zero":false,"padding":0}},"y2":{"datum":2504.94}}},
  {"data":{"values":[{}]},"mark":{"type":"rule","color":"#a8a8a8","strokeWidth":1.6},"encoding":{"x":{"datum":0.147,"type":"quantitative"},"y":{"datum":2488.76,"type":"quantitative"},"y2":{"datum":2504.94}}},
  {"data":{"values":[{}]},"mark":{"type":"rule","color":"#a8a8a8","strokeWidth":1.6},"encoding":{"x":{"datum":0.2225,"type":"quantitative"},"y":{"datum":2488.76,"type":"quantitative"},"y2":{"datum":2504.94}}},
  {"data":{"values":[{}]},"mark":{"type":"rule","color":"#a8a8a8","strokeWidth":1.6},"encoding":{"x":{"datum":0.2979,"type":"quantitative"},"y":{"datum":2488.76,"type":"quantitative"},"y2":{"datum":2504.94}}},
  {"data":{"values":[{}]},"mark":{"type":"rule","color":"#000000","strokeWidth":2.5},"encoding":{"x":{"datum":-0.0039,"type":"quantitative"},"x2":{"datum":0.3734},"y":{"datum":2490,"type":"quantitative"}}},
  {"data":{"values":[{}]},"mark":{"type":"rule","color":"#555555","strokeWidth":1.2},"encoding":{"x":{"datum":-0.0039,"type":"quantitative"},"x2":{"datum":0.3734},"y":{"datum":2500,"type":"quantitative"}}},
  {"transform":[{"filter":"isValid(datum.phit) && datum.d < 2503.6"}],"mark":{"type":"bar","orient":"horizontal","size":6.5,"clip":true},"encoding":{"x":{"datum":-0.0039,"type":"quantitative"},"x2":{"datum":0.3734},"y":{"field":"d","type":"quantitative"},"color":{"field":"phit","type":"quantitative","legend":null,"scale":{"interpolate":"rgb","domain":[-0.0039,0.05,0.1,0.14,0.148,0.16,0.175,0.185,0.195,0.205,0.215,0.235,0.245,0.252,0.26,0.27,0.28,0.3734],"range":["#a000ff","#0000ff","#00a0ff","#00ffff","#00ffe0","#00ff90","#20ff50","#50ff00","#a0ff00","#d0ff00","#f0ff00","#ffff00","#ffe000","#ffb000","#ff6000","#ff1000","#ff0000","#ff0000"]}}}},
  {"transform":[{"filter":"isValid(datum.phit)"}],"mark":{"type":"area","orient":"horizontal","color":"#ffffff","clip":true},"encoding":{"x":{"field":"phit","type":"quantitative"},"x2":{"datum":0.3734},"y":{"field":"d","type":"quantitative"}}},
  {"transform":[{"filter":"datum.phit < 0.2225"}],"mark":{"type":"tick","orient":"vertical","color":"#a8a8a8","thickness":1.6,"size":6.5,"opacity":1,"clip":true},"encoding":{"x":{"datum":0.2225,"type":"quantitative"},"y":{"field":"d","type":"quantitative"}}},
  {"transform":[{"filter":"datum.phit < 0.2979"}],"mark":{"type":"tick","orient":"vertical","color":"#a8a8a8","thickness":1.6,"size":6.5,"opacity":1,"clip":true},"encoding":{"x":{"datum":0.2979,"type":"quantitative"},"y":{"field":"d","type":"quantitative"}}},
  {"transform":[{"filter":"isValid(datum.phit) && (datum.d == 2490 || datum.d == 2500)"}],"mark":{"type":"rule"},"encoding":{"x":{"field":"phit","type":"quantitative"},"x2":{"datum":0.3734},"y":{"field":"d","type":"quantitative"},"color":{"condition":{"test":"datum.d == 2490","value":"#000000"},"value":"#555555"},"strokeWidth":{"condition":{"test":"datum.d == 2490","value":2.5},"value":1.2}}},
  {"transform":[{"filter":"isValid(datum.phit)"}],"mark":{"type":"line","orient":"horizontal","color":"#000000","strokeWidth":1.5},"encoding":{"x":{"field":"phit","type":"quantitative"},"y":{"field":"d","type":"quantitative"}}},
  {"data":{"values":[{}]},"mark":{"type":"rule","color":"#000000","strokeWidth":2.5},"encoding":{"x":{"datum":-0.0039,"type":"quantitative"},"y":{"datum":2488.76,"type":"quantitative"},"y2":{"datum":2504.94}}},
  {"data":{"values":[{}]},"mark":{"type":"rule","color":"#26a3a3","strokeWidth":3},"encoding":{"x":{"datum":-0.0039,"type":"quantitative"},"x2":{"datum":0.3734},"y":{"datum":2488.765,"type":"quantitative"}}},
  {"data":{"values":[{}]},"mark":{"type":"rule","color":"#2ca02c","strokeWidth":3},"encoding":{"x":{"datum":-0.0039,"type":"quantitative"},"x2":{"datum":0.3734},"y":{"datum":2504.94,"type":"quantitative"}}}
 ]},
 {"width":152,"height":375,"data":{"name":"log"},"view":{"fill":"#ffffff","stroke":null},
  "layer":[
  {"data":{"values":[{}]},"mark":{"type":"rule","color":"#a8a8a8","strokeWidth":1.6},"encoding":{"x":{"datum":20.394,"type":"quantitative","scale":{"domain":[0.28,100.85],"nice":false,"zero":false}},"y":{"datum":2488.76,"type":"quantitative","scale":{"domain":[2488.7,2505],"reverse":true,"nice":false,"zero":false,"padding":0}},"y2":{"datum":2504.94}}},
  {"data":{"values":[{}]},"mark":{"type":"rule","color":"#a8a8a8","strokeWidth":1.6},"encoding":{"x":{"datum":40.508,"type":"quantitative"},"y":{"datum":2488.76,"type":"quantitative"},"y2":{"datum":2504.94}}},
  {"data":{"values":[{}]},"mark":{"type":"rule","color":"#a8a8a8","strokeWidth":1.6},"encoding":{"x":{"datum":60.622,"type":"quantitative"},"y":{"datum":2488.76,"type":"quantitative"},"y2":{"datum":2504.94}}},
  {"data":{"values":[{}]},"mark":{"type":"rule","color":"#a8a8a8","strokeWidth":1.6},"encoding":{"x":{"datum":80.736,"type":"quantitative"},"y":{"datum":2488.76,"type":"quantitative"},"y2":{"datum":2504.94}}},
  {"data":{"values":[{}]},"mark":{"type":"rule","color":"#000000","strokeWidth":2.5},"encoding":{"x":{"datum":0.28,"type":"quantitative"},"x2":{"datum":100.85},"y":{"datum":2490,"type":"quantitative"}}},
  {"data":{"values":[{}]},"mark":{"type":"rule","color":"#555555","strokeWidth":1.2},"encoding":{"x":{"datum":0.28,"type":"quantitative"},"x2":{"datum":100.85},"y":{"datum":2500,"type":"quantitative"}}},
  {"transform":[{"filter":"isValid(datum.gr) && datum.d < 2504"}],"mark":{"type":"bar","orient":"horizontal","size":6.5,"clip":true},"encoding":{"x":{"datum":0.28,"type":"quantitative"},"x2":{"datum":100.85},"y":{"field":"d","type":"quantitative"},"color":{"field":"gr","type":"quantitative","legend":null,"scale":{"interpolate":"rgb","domain":[0.28,15,18,22,26,40,55,65,75,85,100.85],"range":["#ff00ff","#f800ff","#e800ff","#d800ff","#c800ff","#4000ff","#00a0ff","#00ffff","#40ff00","#ffff00","#ff0000"]}}}},
  {"transform":[{"filter":"isValid(datum.gr)"}],"mark":{"type":"area","orient":"horizontal","color":"#ffffff","clip":true},"encoding":{"x":{"field":"gr","type":"quantitative"},"x2":{"datum":100.85},"y":{"field":"d","type":"quantitative"}}},
  {"transform":[{"filter":"datum.gr < 20.394"}],"mark":{"type":"tick","orient":"vertical","color":"#a8a8a8","thickness":1.6,"size":6.5,"opacity":1,"clip":true},"encoding":{"x":{"datum":20.394,"type":"quantitative"},"y":{"field":"d","type":"quantitative"}}},
  {"transform":[{"filter":"datum.gr < 40.508"}],"mark":{"type":"tick","orient":"vertical","color":"#a8a8a8","thickness":1.6,"size":6.5,"opacity":1,"clip":true},"encoding":{"x":{"datum":40.508,"type":"quantitative"},"y":{"field":"d","type":"quantitative"}}},
  {"transform":[{"filter":"datum.gr < 60.622"}],"mark":{"type":"tick","orient":"vertical","color":"#a8a8a8","thickness":1.6,"size":6.5,"opacity":1,"clip":true},"encoding":{"x":{"datum":60.622,"type":"quantitative"},"y":{"field":"d","type":"quantitative"}}},
  {"transform":[{"filter":"datum.gr < 80.736"}],"mark":{"type":"tick","orient":"vertical","color":"#a8a8a8","thickness":1.6,"size":6.5,"opacity":1,"clip":true},"encoding":{"x":{"datum":80.736,"type":"quantitative"},"y":{"field":"d","type":"quantitative"}}},
  {"transform":[{"filter":"isValid(datum.gr) && (datum.d == 2490 || datum.d == 2500)"}],"mark":{"type":"rule"},"encoding":{"x":{"field":"gr","type":"quantitative"},"x2":{"datum":100.85},"y":{"field":"d","type":"quantitative"},"color":{"condition":{"test":"datum.d == 2490","value":"#000000"},"value":"#555555"},"strokeWidth":{"condition":{"test":"datum.d == 2490","value":2.5},"value":1.2}}},
  {"transform":[{"filter":"isValid(datum.gr)"}],"mark":{"type":"line","orient":"horizontal","color":"#000000","strokeWidth":1.5},"encoding":{"x":{"field":"gr","type":"quantitative"},"y":{"field":"d","type":"quantitative"}}},
  {"data":{"values":[{}]},"mark":{"type":"rule","color":"#000000","strokeWidth":2.5},"encoding":{"x":{"datum":0.28,"type":"quantitative"},"y":{"datum":2488.76,"type":"quantitative"},"y2":{"datum":2504.94}}},
  {"data":{"values":[{}]},"mark":{"type":"rule","color":"#26a3a3","strokeWidth":3},"encoding":{"x":{"datum":0.28,"type":"quantitative"},"x2":{"datum":100.85},"y":{"datum":2488.765,"type":"quantitative"}}},
  {"data":{"values":[{}]},"mark":{"type":"rule","color":"#2ca02c","strokeWidth":3},"encoding":{"x":{"datum":0.28,"type":"quantitative"},"x2":{"datum":100.85},"y":{"datum":2504.94,"type":"quantitative"}}}
 ]},
 {"width":153,"height":375,"data":{"name":"vsh"},"view":{"fill":"#ffffff","stroke":null},
  "layer":[
  {"data":{"values":[{}]},"mark":{"type":"rule","color":"#a8a8a8","strokeWidth":1.6},"encoding":{"x":{"datum":11.545,"type":"quantitative","scale":{"domain":[-8.2294,90.6427],"nice":false,"zero":false}},"y":{"datum":2488.76,"type":"quantitative","scale":{"domain":[2488.7,2505],"reverse":true,"nice":false,"zero":false,"padding":0}},"y2":{"datum":2504.94}}},
  {"data":{"values":[{}]},"mark":{"type":"rule","color":"#a8a8a8","strokeWidth":1.6},"encoding":{"x":{"datum":31.319,"type":"quantitative"},"y":{"datum":2488.76,"type":"quantitative"},"y2":{"datum":2504.94}}},
  {"data":{"values":[{}]},"mark":{"type":"rule","color":"#a8a8a8","strokeWidth":1.6},"encoding":{"x":{"datum":51.094,"type":"quantitative"},"y":{"datum":2488.76,"type":"quantitative"},"y2":{"datum":2504.94}}},
  {"data":{"values":[{}]},"mark":{"type":"rule","color":"#a8a8a8","strokeWidth":1.6},"encoding":{"x":{"datum":70.868,"type":"quantitative"},"y":{"datum":2488.76,"type":"quantitative"},"y2":{"datum":2504.94}}},
  {"data":{"values":[{}]},"mark":{"type":"rule","color":"#000000","strokeWidth":2.5},"encoding":{"x":{"datum":-8.2294,"type":"quantitative"},"x2":{"datum":90.6427},"y":{"datum":2490,"type":"quantitative"}}},
  {"data":{"values":[{}]},"mark":{"type":"rule","color":"#555555","strokeWidth":1.2},"encoding":{"x":{"datum":-8.2294,"type":"quantitative"},"x2":{"datum":90.6427},"y":{"datum":2500,"type":"quantitative"}}},
  {"mark":{"type":"rect","clip":true},"encoding":{"x":{"field":"v","type":"quantitative"},"x2":{"datum":-8.2294},"y":{"field":"top","type":"quantitative"},"y2":{"field":"bot"},"color":{"field":"v","type":"quantitative","legend":null,"scale":{"interpolate":"rgb","domain":[-8.2294,1.35,1.5,1.65,1.8,1.95,2.1,2.2,2.3,90.6427],"range":["#ff0000","#ff0000","#ff8000","#ffff00","#40ff40","#00e0e0","#2060ff","#8040ff","#ff00ff","#ff00ff"]}}}},
  {"mark":{"type":"rule","color":"#000000","strokeWidth":1.2,"clip":true},"encoding":{"x":{"field":"v","type":"quantitative"},"y":{"field":"top","type":"quantitative"},"y2":{"field":"bot"}}},
  {"data":{"values":[{}]},"mark":{"type":"rule","color":"#000000","strokeWidth":2.5},"encoding":{"x":{"datum":-8.2294,"type":"quantitative"},"y":{"datum":2488.76,"type":"quantitative"},"y2":{"datum":2504.94}}},
  {"data":{"values":[{}]},"mark":{"type":"rule","color":"#26a3a3","strokeWidth":3},"encoding":{"x":{"datum":-8.2294,"type":"quantitative"},"x2":{"datum":90.6427},"y":{"datum":2488.765,"type":"quantitative"}}},
  {"data":{"values":[{}]},"mark":{"type":"rule","color":"#2ca02c","strokeWidth":3},"encoding":{"x":{"datum":-8.2294,"type":"quantitative"},"x2":{"datum":90.6427},"y":{"datum":2504.94,"type":"quantitative"}}}
 ]},
 {"width":154,"height":375,"data":{"name":"log"},"view":{"fill":"#ffffff","stroke":null},
  "layer":[
  {"data":{"values":[{}]},"mark":{"type":"rule","color":"#a8a8a8","strokeWidth":1.6},"encoding":{"x":{"datum":0.0247,"type":"quantitative","scale":{"domain":[-0.1613,0.7688],"nice":false,"zero":false}},"y":{"datum":2488.76,"type":"quantitative","scale":{"domain":[2488.7,2505],"reverse":true,"nice":false,"zero":false,"padding":0}},"y2":{"datum":2504.94}}},
  {"data":{"values":[{}]},"mark":{"type":"rule","color":"#a8a8a8","strokeWidth":1.6},"encoding":{"x":{"datum":0.2107,"type":"quantitative"},"y":{"datum":2488.76,"type":"quantitative"},"y2":{"datum":2504.94}}},
  {"data":{"values":[{}]},"mark":{"type":"rule","color":"#a8a8a8","strokeWidth":1.6},"encoding":{"x":{"datum":0.3968,"type":"quantitative"},"y":{"datum":2488.76,"type":"quantitative"},"y2":{"datum":2504.94}}},
  {"data":{"values":[{}]},"mark":{"type":"rule","color":"#a8a8a8","strokeWidth":1.6},"encoding":{"x":{"datum":0.5828,"type":"quantitative"},"y":{"datum":2488.76,"type":"quantitative"},"y2":{"datum":2504.94}}},
  {"data":{"values":[{}]},"mark":{"type":"rule","color":"#000000","strokeWidth":2.5},"encoding":{"x":{"datum":-0.1613,"type":"quantitative"},"x2":{"datum":0.7688},"y":{"datum":2490,"type":"quantitative"}}},
  {"data":{"values":[{}]},"mark":{"type":"rule","color":"#555555","strokeWidth":1.2},"encoding":{"x":{"datum":-0.1613,"type":"quantitative"},"x2":{"datum":0.7688},"y":{"datum":2500,"type":"quantitative"}}},
  {"transform":[{"filter":"isValid(datum.nphi)"}],"mark":{"type":"bar","orient":"horizontal","size":6.5,"clip":true},"encoding":{"x":{"datum":-0.1613,"type":"quantitative"},"x2":{"datum":0.7688},"y":{"field":"d","type":"quantitative"},"color":{"field":"nphi","type":"quantitative","legend":null,"scale":{"interpolate":"rgb","domain":[-0.1613,0.1,0.2,0.22,0.235,0.255,0.27,0.285,0.31,0.35,0.38,0.45,0.7688],"range":["#ff00ff","#0000ff","#0030e0","#0040f0","#0060ff","#0078ff","#0088ff","#00a8ff","#00c8ff","#00e8ff","#00ffff","#00ff80","#ff0000"]}}}},
  {"transform":[{"filter":"isValid(datum.nphi)"}],"mark":{"type":"area","orient":"horizontal","color":"#ffffff","clip":true},"encoding":{"x":{"field":"nphi","type":"quantitative"},"x2":{"datum":0.7688},"y":{"field":"d","type":"quantitative"}}},
  {"transform":[{"filter":"datum.nphi < 0.3968"}],"mark":{"type":"tick","orient":"vertical","color":"#a8a8a8","thickness":1.6,"size":6.5,"opacity":1,"clip":true},"encoding":{"x":{"datum":0.3968,"type":"quantitative"},"y":{"field":"d","type":"quantitative"}}},
  {"transform":[{"filter":"datum.nphi < 0.5828"}],"mark":{"type":"tick","orient":"vertical","color":"#a8a8a8","thickness":1.6,"size":6.5,"opacity":1,"clip":true},"encoding":{"x":{"datum":0.5828,"type":"quantitative"},"y":{"field":"d","type":"quantitative"}}},
  {"transform":[{"filter":"isValid(datum.nphi) && (datum.d == 2490 || datum.d == 2500)"}],"mark":{"type":"rule"},"encoding":{"x":{"field":"nphi","type":"quantitative"},"x2":{"datum":0.7688},"y":{"field":"d","type":"quantitative"},"color":{"condition":{"test":"datum.d == 2490","value":"#000000"},"value":"#555555"},"strokeWidth":{"condition":{"test":"datum.d == 2490","value":2.5},"value":1.2}}},
  {"transform":[{"filter":"isValid(datum.nphi)"}],"mark":{"type":"line","orient":"horizontal","color":"#000000","strokeWidth":1.5},"encoding":{"x":{"field":"nphi","type":"quantitative"},"y":{"field":"d","type":"quantitative"}}},
  {"data":{"values":[{}]},"mark":{"type":"rule","color":"#000000","strokeWidth":2.5},"encoding":{"x":{"datum":-0.1613,"type":"quantitative"},"y":{"datum":2488.76,"type":"quantitative"},"y2":{"datum":2504.94}}},
  {"data":{"values":[{}]},"mark":{"type":"rule","color":"#777777","strokeWidth":1.5},"encoding":{"x":{"datum":0.7688,"type":"quantitative"},"y":{"datum":2488.76,"type":"quantitative"},"y2":{"datum":2504.94}}},
  {"data":{"values":[{}]},"mark":{"type":"text","text":"Lower_Dariyan_A","align":"right","baseline":"bottom","dx":-5,"dy":-3,"fontSize":11,"color":"#2e9e4a"},"encoding":{"x":{"datum":0.7688,"type":"quantitative"},"y":{"datum":2505,"type":"quantitative"}}},
  {"data":{"values":[{}]},"mark":{"type":"rule","color":"#26a3a3","strokeWidth":3},"encoding":{"x":{"datum":-0.1613,"type":"quantitative"},"x2":{"datum":0.7688},"y":{"datum":2488.765,"type":"quantitative"}}},
  {"data":{"values":[{}]},"mark":{"type":"rule","color":"#2ca02c","strokeWidth":3},"encoding":{"x":{"datum":-0.1613,"type":"quantitative"},"x2":{"datum":0.7688},"y":{"datum":2504.94,"type":"quantitative"}}}
 ]}
], "spacing": 0, "bounds": "flush", "resolve": {"scale": {"color": "independent"}}},
{"width":974,"height":45,"data":{"values":[{}]},"view":{"stroke":null},"layer":[
 {"mark":{"type":"text","text":"Figure 15:","align":"left","baseline":"alphabetic","dx":12,"font":"Liberation Serif","fontSize":28,"fontWeight":"bold","color":"#111111"},"encoding":{"x":{"datum":0,"type":"quantitative","scale":{"domain":[0,1],"nice":false,"zero":false}},"y":{"datum":36.5,"type":"quantitative","scale":{"domain":[0,45],"reverse":true,"nice":false,"zero":false}}}},
 {"mark":{"type":"text","text":"Variations in total porosity, water saturation, and shale volume in zone 8.","align":"left","baseline":"alphabetic","dx":142,"font":"Liberation Serif","fontWeight":"normal","fontSize":28,"color":"#1a1a1a"},"encoding":{"x":{"datum":0,"type":"quantitative"},"y":{"datum":36.5,"type":"quantitative"}}}
]}
]
}
